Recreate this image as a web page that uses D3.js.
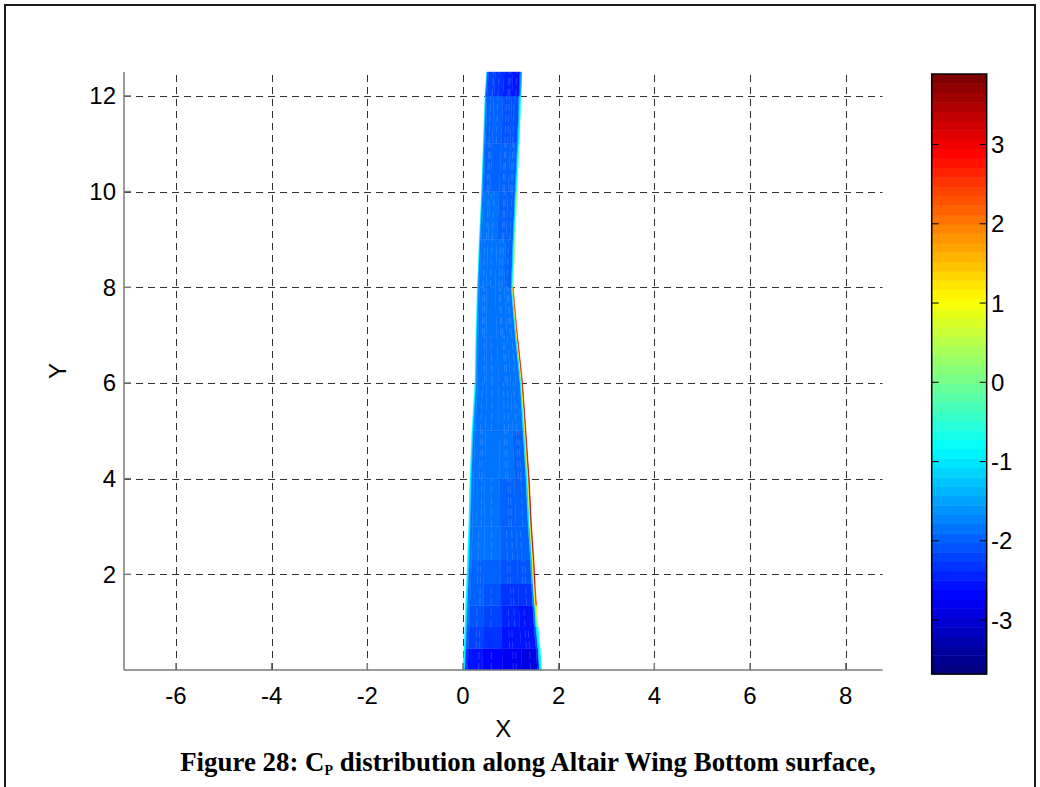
<!DOCTYPE html>
<html>
<head>
<meta charset="utf-8">
<script src="https://cdn.jsdelivr.net/npm/d3@7"></script>
<style>
  body { margin: 0; background: #fff; }
  svg { display: block; }
</style>
</head>
<body>
<svg id="chart" width="1040" height="787"></svg>
<script>
// Spanwise stations of the wing panel mesh (Y) and the leading / trailing edge X at each
const spanY     = [0, 0.45, 0.9, 1.35, 1.8, 2.3, 3, 4, 5, 6, 7, 8, 9, 10, 11, 12, 12.5];
const leadingX  = [0, 0.02, 0.04, 0.055, 0.075, 0.095, 0.12, 0.146, 0.188, 0.25, 0.27, 0.30, 0.34, 0.387, 0.425, 0.46, 0.495];
const trailingX = [1.645, 1.615, 1.57, 1.54, 1.51, 1.485, 1.435, 1.386, 1.317, 1.248, 1.14, 1.05, 1.087, 1.13, 1.177, 1.21, 1.23];

// Chordwise panel divisions (fraction of local chord)
const chordFrac = [0, 0.025, 0.06, 0.25, 0.5, 0.75, 0.945, 0.97, 0.988, 1];

// Cp per panel: one row per span strip (root to tip), one value per chordwise panel
const cpRows = [
  [-0.9, -2.3,  -2.55, -2.65, -2.8,  -2.95, -2.4, -1.0, -0.9],
  [-0.9, -2.0,  -2.25, -2.35, -2.55, -2.6,  -2.1, -1.0, -0.8],
  [-0.9, -1.9,  -2.05, -2.15, -2.45, -2.5,  -1.9, -0.6,  0.8],
  [-0.9, -1.85, -2.0,  -2.1,  -2.3,  -2.35, -1.7,  0.8,  2.6],
  [-0.9, -1.8,  -1.95, -2.0,  -2.05, -2.1,  -1.4,  1.0,  3.2],
  [-0.9, -1.8,  -1.9,  -1.9,  -1.95, -2.0,  -1.2,  1.0,  3.3],
  [-0.9, -1.8,  -1.9,  -1.9,  -1.95, -2.0,  -1.0,  1.1,  3.5],
  [-0.9, -1.8,  -1.9,  -1.9,  -1.9,  -1.95, -1.0,  1.1,  3.4],
  [-0.9, -1.75, -1.9,  -1.9,  -1.9,  -1.9,  -1.0,  1.0,  3.2],
  [-0.9, -1.75, -1.8,  -1.87, -1.9,  -1.9,  -1.0,  1.0,  3.0],
  [-0.9, -1.75, -1.8,  -1.87, -1.9,  -1.9,  -1.0,  0.9,  2.6],
  [-0.9, -1.8,  -1.9,  -1.9,  -1.9,  -1.95, -1.3, -0.5,  0.3],
  [-0.9, -1.8,  -1.9,  -1.9,  -1.93, -1.95, -1.4, -0.6,  0.2],
  [-1.0, -1.85, -1.95, -1.95, -1.97, -2.0,  -1.5, -0.8, -0.2],
  [-1.0, -1.85, -2.0,  -2.0,  -2.05, -2.1,  -1.6, -1.0, -0.8],
  [-1.2, -2.05, -2.15, -2.3,  -2.45, -2.55, -2.1, -1.6, -1.4]
];

// Chordwise mesh lines drawn over the surface
const meshFrac = [0.16, 0.2, 0.36, 0.6, 0.64, 0.68, 0.82, 0.86];

const xTicks  = [-6, -4, -2, 0, 2, 4, 6, 8];
const yTicks  = [2, 4, 6, 8, 10, 12];
const cbTicks = [-3, -2, -1, 0, 1, 2, 3];
const xDomain = [-7.086, 8.77];
const yDomain = [0, 12.5];
const cpRange = [-3.68, 3.89];
const nColors = 64;

const svg = d3.select("#chart");
const font = "'Liberation Sans', Arial, Helvetica, sans-serif";
const fontSize = 24;

const plot = { left: 124, right: 882.5, top: 72, bottom: 670 };
const cbBox = { left: 931.7, right: 986.7, top: 74, bottom: 674 };

const x = d3.scaleLinear().domain(xDomain).range([plot.left, plot.right]);
const y = d3.scaleLinear().domain(yDomain).range([plot.bottom, plot.top]);
const cbY = d3.scaleLinear().domain(cpRange).range([cbBox.bottom, cbBox.top]);

// MATLAB-style jet colormap, quantised to nColors levels
function jet(t) {
  const c = v => Math.max(0, Math.min(1, v));
  const r = c(Math.min(4 * t - 1.5, -4 * t + 4.5));
  const g = c(Math.min(4 * t - 0.5, -4 * t + 3.5));
  const b = c(Math.min(4 * t + 0.5, -4 * t + 2.5));
  return d3.rgb(r * 255, g * 255, b * 255).formatHex();
}
const palette = d3.range(nColors).map(i => jet(i / (nColors - 1)));
const colorOf = d3.scaleQuantize().domain(cpRange).range(palette);

// Outer figure frame
svg.append("path")
  .attr("d", "M5,790 L5,5 L1035,5 L1035,790")
  .attr("fill", "none").attr("stroke", "#1a1a1a").attr("stroke-width", 2);

// Grid
const grid = svg.append("g").attr("stroke", "#333").attr("stroke-width", 1)
  .attr("stroke-dasharray", "7,5").attr("fill", "none");
grid.selectAll("line.gx").data(xTicks).join("line")
  .attr("x1", d => Math.round(x(d)) + 0.5).attr("x2", d => Math.round(x(d)) + 0.5)
  .attr("y1", plot.bottom).attr("y2", plot.top);
grid.selectAll("line.gy").data(yTicks).join("line")
  .attr("y1", d => Math.round(y(d)) + 0.5).attr("y2", d => Math.round(y(d)) + 0.5)
  .attr("x1", plot.left).attr("x2", plot.right);

// Wing surface panels
const panels = [];
cpRows.forEach((row, i) => {
  row.forEach((cp, j) => {
    const p = (k, f) => [leadingX[k] + f * (trailingX[k] - leadingX[k]), spanY[k]];
    panels.push({ cp, pts: [p(i, chordFrac[j]), p(i, chordFrac[j + 1]), p(i + 1, chordFrac[j + 1]), p(i + 1, chordFrac[j])] });
  });
});
const line = d3.line().x(d => x(d[0])).y(d => y(d[1]));
svg.append("g").selectAll("path").data(panels).join("path")
  .attr("d", d => line(d.pts) + "Z")
  .attr("fill", d => colorOf(d.cp))
  .attr("stroke", d => colorOf(d.cp))
  .attr("stroke-width", 0.4);

// Mesh lines (each span strip carries a different subset)
const mesh = [];
for (let i = 0; i < spanY.length - 1; i++) {
  meshFrac.forEach((f, k) => {
    if ((k + i) % 3 === 0) return;
    mesh.push([[leadingX[i] + f * (trailingX[i] - leadingX[i]), spanY[i]],
               [leadingX[i + 1] + f * (trailingX[i + 1] - leadingX[i + 1]), spanY[i + 1]]]);
  });
}
svg.append("g").selectAll("path").data(mesh).join("path")
  .attr("d", d => line(d))
  .attr("fill", "none")
  .attr("stroke", "rgba(180,200,255,0.22)")
  .attr("stroke-width", 1)
  .attr("stroke-dasharray", "7,4");

// Axes
const axisG = svg.append("g").attr("stroke", "#7a7a7a").attr("stroke-width", 1.5);
axisG.append("line").attr("x1", plot.left).attr("x2", plot.right).attr("y1", plot.bottom).attr("y2", plot.bottom);
axisG.append("line").attr("x1", plot.left).attr("x2", plot.left).attr("y1", plot.bottom).attr("y2", plot.top);
axisG.selectAll("line.tx").data(xTicks).join("line")
  .attr("x1", d => x(d)).attr("x2", d => x(d)).attr("y1", plot.bottom).attr("y2", plot.bottom - 7);
axisG.selectAll("line.ty").data(yTicks).join("line")
  .attr("y1", d => y(d)).attr("y2", d => y(d)).attr("x1", plot.left).attr("x2", plot.left + 7);

svg.append("g").selectAll("text").data(xTicks).join("text")
  .attr("x", d => x(d)).attr("y", 704)
  .attr("text-anchor", "middle").attr("font-family", font).attr("font-size", fontSize)
  .text(d => d);
svg.append("g").selectAll("text").data(yTicks).join("text")
  .attr("x", 116).attr("y", d => y(d) + 8.5)
  .attr("text-anchor", "end").attr("font-family", font).attr("font-size", fontSize)
  .text(d => d);

svg.append("text").attr("x", (plot.left + plot.right) / 2).attr("y", 737)
  .attr("text-anchor", "middle").attr("font-family", font).attr("font-size", fontSize).text("X");
svg.append("text").attr("transform", `translate(66,${(plot.top + plot.bottom) / 2}) rotate(-90)`)
  .attr("text-anchor", "middle").attr("font-family", font).attr("font-size", fontSize).text("Y");

// Colorbar
const band = (cpRange[1] - cpRange[0]) / nColors;
svg.append("g").selectAll("rect").data(palette).join("rect")
  .attr("x", cbBox.left)
  .attr("width", cbBox.right - cbBox.left)
  .attr("y", (d, i) => cbY(cpRange[0] + (i + 1) * band))
  .attr("height", (d, i) => cbY(cpRange[0] + i * band) - cbY(cpRange[0] + (i + 1) * band) + 0.5)
  .attr("fill", d => d);
svg.append("rect")
  .attr("x", cbBox.left).attr("y", cbBox.top)
  .attr("width", cbBox.right - cbBox.left).attr("height", cbBox.bottom - cbBox.top)
  .attr("fill", "none").attr("stroke", "#000").attr("stroke-width", 1.5);
const cbTickG = svg.append("g").attr("stroke", "#000").attr("stroke-width", 1);
cbTickG.selectAll("line.l").data(cbTicks).join("line")
  .attr("x1", cbBox.left).attr("x2", cbBox.left + 7).attr("y1", d => cbY(d)).attr("y2", d => cbY(d));
cbTickG.selectAll("line.r").data(cbTicks).join("line")
  .attr("x1", cbBox.right - 7).attr("x2", cbBox.right).attr("y1", d => cbY(d)).attr("y2", d => cbY(d));
svg.append("g").selectAll("text").data(cbTicks).join("text")
  .attr("x", 991).attr("y", d => cbY(d) + 8.5)
  .attr("font-family", font).attr("font-size", fontSize)
  .text(d => d);

// Caption
const cap = svg.append("text")
  .attr("x", 528).attr("y", 771)
  .attr("text-anchor", "middle")
  .attr("font-family", "'Liberation Serif', 'Times New Roman', serif")
  .attr("font-weight", "bold").attr("font-size", 22);
cap.append("tspan").text("Figure 28: C");
cap.append("tspan").attr("font-size", 14).attr("dy", 4).text("P");
cap.append("tspan").attr("dy", -4).text(" distribution along Altair Wing Bottom surface,");
const w = cap.node().getComputedTextLength();
cap.attr("font-size", 22 * 698 / w);
</script>
</body>
</html>
